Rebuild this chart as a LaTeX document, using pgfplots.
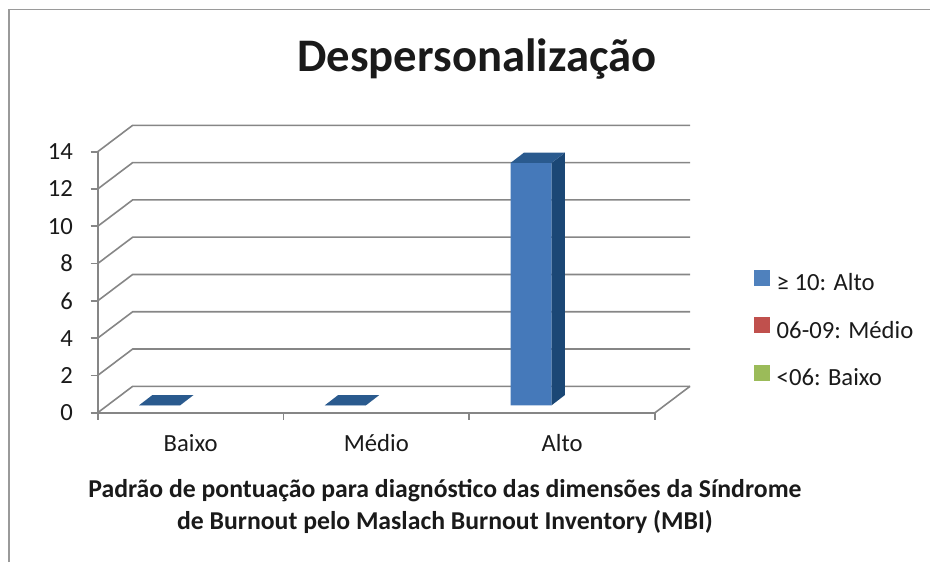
\documentclass[border=0pt]{standalone}
\usepackage{fontspec}
\setmainfont{Carlito}
\usepackage{pgfplots}
\usepackage{pgfplotstable}
\pgfplotsset{compat=1.18}

\definecolor{gridc}{HTML}{868686}
\definecolor{frontc}{HTML}{4579BA}
\definecolor{topc}{HTML}{2A5A8E}
\definecolor{sidec}{HTML}{1B4775}
\definecolor{altoc}{HTML}{4F81BD}
\definecolor{medioc}{HTML}{C0504D}
\definecolor{baixoc}{HTML}{9BBB59}
\definecolor{framec}{HTML}{9A9A9A}
\definecolor{txtc}{HTML}{1A1A1A}

\pgfplotstableread{
x y
0.5 0
1.5 0
2.5 13
}\datatable

% top and side faces of a 3D column, drawn at each data point
\pgfdeclareplotmark{cuboid}{%
  \pgfmathsetlengthmacro\hh{\val*13.982pt}%
  \pgfsetfillcolor{sidec}%
  \pgfpathmoveto{\pgfpoint{-7.925pt}{5.54pt}}%
  \pgfpathlineto{\pgfpoint{2.075pt}{13.24pt}}%
  \pgfpathlineto{\pgfpointadd{\pgfpoint{2.075pt}{13.24pt}}{\pgfpoint{0pt}{-\hh}}}%
  \pgfpathlineto{\pgfpointadd{\pgfpoint{-7.925pt}{5.54pt}}{\pgfpoint{0pt}{-\hh}}}%
  \pgfpathclose
  \pgfusepath{fill}%
  \pgfsetfillcolor{topc}%
  \pgfpathmoveto{\pgfpoint{-38.675pt}{5.54pt}}%
  \pgfpathlineto{\pgfpoint{-7.925pt}{5.54pt}}%
  \pgfpathlineto{\pgfpoint{2.075pt}{13.24pt}}%
  \pgfpathlineto{\pgfpoint{-28.675pt}{13.24pt}}%
  \pgfpathclose
  \pgfusepath{fill}%
}

\begin{document}
\begin{tikzpicture}
\path[use as bounding box] (0,0) rectangle (697.5pt,421.5pt);
\draw[framec, line width=0.9pt] (6.75pt,0) -- (6.75pt,414.5pt) -- (697.5pt,414.5pt);
\begin{axis}[
  at={(73.275pt,111.975pt)}, anchor=south west,
  scale only axis, width=417.975pt, height=195.75pt,
  xmin=0, xmax=3, ymin=0, ymax=14,
  clip=false,
  axis x line*=bottom, axis y line*=left,
  axis line style={gridc, line width=1.2pt},
  tick style={gridc, line width=1.2pt},
  tick align=outside, major tick length=5.25pt,
  ytick={0,2,...,14},
  xtick={0,1,2,3},
  x tick label as interval,
  xticklabels={Baixo,Médio,Alto},
  tick label style={font=\fontsize{18.5}{22}\selectfont, text=txtc},
  yticklabel style={xshift=-9.75pt},
  xticklabel style={yshift=-7.5pt},
  /pgf/number format/assume math mode=true,
  title={Despersonalização},
  title style={at={(axis description cs:0.6806,1.2774)}, anchor=base,
    font=\bfseries\fontsize{35}{42}\selectfont, text=txtc},
  xlabel={Padrão de pontuação para diagnóstico das dimensões da Síndrome\\de Burnout pelo Maslach Burnout Inventory (MBI)},
  xlabel style={at={(axis description cs:0.623,-0.3575)}, anchor=center, align=center,
    font=\bfseries\fontsize{19.3}{24}\selectfont, text=txtc},
  legend style={at={(axis description cs:1.178,0.5467)}, anchor=north west,
    draw=none, fill=none, inner sep=0pt, outer sep=0pt, column sep=5.25pt, row sep=16.3pt,
    nodes={inner sep=0pt, text height=12pt, text depth=3.5pt},
    font=\fontsize{18.5}{22}\selectfont, text=txtc},
  legend cell align=left,
  legend image code/.code={\fill[#1] (0pt,0pt) rectangle (11.25pt,11.25pt);},
]
% 3D walls: side wall diagonals, back-wall gridlines and floor
\pgfplotsinvokeforeach{0,2,...,14}{
  \draw[gridc, line width=1.2pt] (axis cs:0,#1) -- (axis cs:0.1884,#1+1.416) -- (axis cs:3.1884,#1+1.416);
}
\draw[gridc, line width=1.2pt] (axis cs:3,0) -- (axis cs:3.1884,1.416);

\addplot[forget plot, ybar, bar width=30.75pt, bar shift=-30.65pt, fill=frontc, draw=none,
  xshift=7.35pt, yshift=5.54pt] table {\datatable};
\addplot[forget plot, only marks, scatter, mark=cuboid, point meta=y,
  scatter/@pre marker code/.code={}, scatter/@post marker code/.code={},
  visualization depends on={rawy \as \val}] table {\datatable};

\addlegendimage{altoc}
\addlegendentry{≥ 10: Alto}
\addlegendimage{medioc}
\addlegendentry{06-09: Médio}
\addlegendimage{baixoc}
\addlegendentry{<06: Baixo}
\end{axis}
\end{tikzpicture}
\end{document}
